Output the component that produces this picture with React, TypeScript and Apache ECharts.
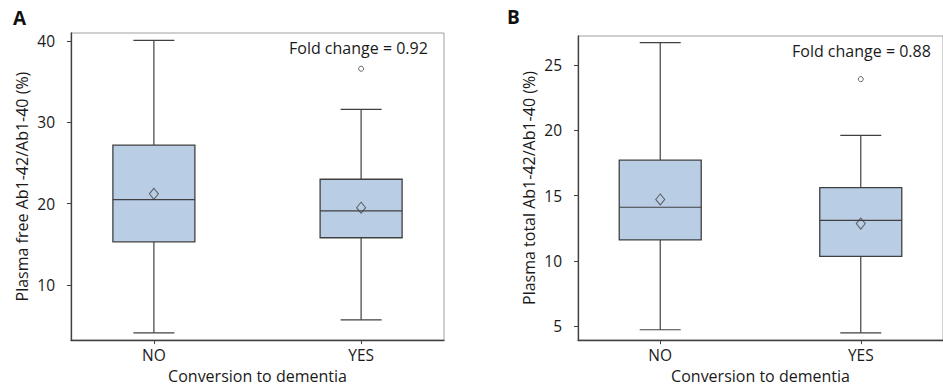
import React, { useEffect, useRef } from "react";
import * as echarts from "echarts";

const categories = ["NO", "YES"];
const categoryPos = [1, 2];

// Panel A: plasma free Ab1-42/Ab1-40 (%) — [min, Q1, median, Q3, max]
const freeBoxNO = [4.1, 15.3, 20.5, 27.2, 40.1];
const freeBoxYES = [5.7, 15.8, 19.1, 23.0, 31.6];
const freeMeans = [21.2, 19.5];
const freeOutliersYES = [36.6];
const freeTicks = [10, 20, 30, 40];

// Panel B: plasma total Ab1-42/Ab1-40 (%)
const totalBoxNO = [4.73, 11.6, 14.1, 17.7, 26.7];
const totalBoxYES = [4.5, 10.35, 13.1, 15.6, 19.6];
const totalMeans = [14.7, 12.85];
const totalOutliersYES = [23.9];
const totalTicks = [5, 10, 15, 20, 25];

const foldChanges = ["Fold change = 0.92", "Fold change = 0.88"];

const FONT = "Open Sans";
const LINE = "#404040";
const FILL = "#b9cde5";
const TEXT = "#1a1a1a";

function boxRender(params: any, api: any) {
  const x = api.value(0);
  const pMin = api.coord([x, api.value(1)]);
  const pQ1 = api.coord([x, api.value(2)]);
  const pMed = api.coord([x, api.value(3)]);
  const pQ3 = api.coord([x, api.value(4)]);
  const pMax = api.coord([x, api.value(5)]);
  const cx = pMed[0];
  const half = 41;
  const cap = 20.5;
  const ls = { stroke: LINE, lineWidth: 1.2 };
  return {
    type: "group",
    children: [
      { type: "line", shape: { x1: cx, y1: pMax[1], x2: cx, y2: pQ3[1] }, style: ls },
      { type: "line", shape: { x1: cx, y1: pQ1[1], x2: cx, y2: pMin[1] }, style: ls },
      { type: "line", shape: { x1: cx - cap, y1: pMax[1], x2: cx + cap, y2: pMax[1] }, style: ls },
      { type: "line", shape: { x1: cx - cap, y1: pMin[1], x2: cx + cap, y2: pMin[1] }, style: ls },
      {
        type: "rect",
        shape: { x: cx - half, y: pQ3[1], width: half * 2, height: pQ1[1] - pQ3[1] },
        style: { fill: FILL, stroke: LINE, lineWidth: 1.3 },
      },
      { type: "line", shape: { x1: cx - half, y1: pMed[1], x2: cx + half, y2: pMed[1] }, style: ls },
    ],
  };
}

function makeXAxis(gridIndex: number, min: number, max: number) {
  return {
    type: "value",
    gridIndex,
    min,
    max,
    name: "Conversion to dementia",
    nameLocation: "middle",
    nameGap: 22,
    nameTextStyle: { fontFamily: FONT, fontSize: 16, color: TEXT },
    axisLine: { show: true, lineStyle: { color: LINE, width: 1.3 } },
    axisTick: { show: true, length: 4, customValues: categoryPos, lineStyle: { color: LINE } },
    axisLabel: {
      customValues: categoryPos,
      margin: 7,
      fontFamily: FONT,
      fontSize: 15.5,
      color: TEXT,
      formatter: (v: number) => categories[Math.round(v) - 1] ?? "",
    },
    splitLine: { show: false },
  };
}

function makeYAxis(gridIndex: number, min: number, max: number, ticks: number[], name: string) {
  return {
    type: "value",
    gridIndex,
    min,
    max,
    name,
    nameLocation: "middle",
    nameGap: 41,
    nameTextStyle: { fontFamily: FONT, fontSize: 16, color: TEXT },
    axisLine: { show: true, lineStyle: { color: LINE, width: 1.3 } },
    axisTick: { show: true, length: 4, customValues: ticks, lineStyle: { color: LINE } },
    axisLabel: { customValues: ticks, margin: 16, fontFamily: FONT, fontSize: 15.5, color: TEXT },
    splitLine: { show: false },
  };
}

export default function App() {
  const ref = useRef<HTMLDivElement>(null);
  useEffect(() => {
    if (!ref.current) return;
    const chart = echarts.init(ref.current, undefined, { renderer: "svg" });
    const meanStyle = { color: "rgba(0,0,0,0)", borderColor: LINE, borderWidth: 1 };
    chart.setOption({
      animation: false,
      backgroundColor: "#fff",
      grid: [
        { left: 71, top: 33, width: 373, height: 309, show: true, borderColor: "#a0a0a0", borderWidth: 1 },
        { left: 578, top: 36, width: 375, height: 308, show: true, borderColor: "#a0a0a0", borderWidth: 1 },
      ],
      xAxis: [makeXAxis(0, 0.6, 2.4), makeXAxis(1, 0.59, 2.41)],
      yAxis: [
        makeYAxis(0, 3.2, 41.0, freeTicks, "Plasma free Ab1-42/Ab1-40 (%)"),
        makeYAxis(1, 3.94, 27.2, totalTicks, "Plasma total Ab1-42/Ab1-40 (%)"),
      ],
      series: [
        {
          type: "custom",
          xAxisIndex: 0,
          yAxisIndex: 0,
          renderItem: boxRender,
          encode: { x: 0, y: [1, 2, 3, 4, 5] },
          data: [
            [categoryPos[0], ...freeBoxNO],
            [categoryPos[1], ...freeBoxYES],
          ],
        },
        {
          type: "scatter",
          xAxisIndex: 0,
          yAxisIndex: 0,
          symbol: "diamond",
          symbolSize: [9, 11],
          itemStyle: meanStyle,
          data: freeMeans.map((v, i) => [categoryPos[i], v]),
        },
        {
          type: "scatter",
          xAxisIndex: 0,
          yAxisIndex: 0,
          symbol: "circle",
          symbolSize: 5,
          itemStyle: meanStyle,
          data: freeOutliersYES.map((v) => [categoryPos[1], v]),
        },
        {
          type: "custom",
          xAxisIndex: 1,
          yAxisIndex: 1,
          renderItem: boxRender,
          encode: { x: 0, y: [1, 2, 3, 4, 5] },
          data: [
            [categoryPos[0], ...totalBoxNO],
            [categoryPos[1], ...totalBoxYES],
          ],
        },
        {
          type: "scatter",
          xAxisIndex: 1,
          yAxisIndex: 1,
          symbol: "diamond",
          symbolSize: [9, 11],
          itemStyle: meanStyle,
          data: totalMeans.map((v, i) => [categoryPos[i], v]),
        },
        {
          type: "scatter",
          xAxisIndex: 1,
          yAxisIndex: 1,
          symbol: "circle",
          symbolSize: 5,
          itemStyle: meanStyle,
          data: totalOutliersYES.map((v) => [categoryPos[1], v]),
        },
      ],
      graphic: [
        { type: "text", left: 13, top: 8, style: { text: "A", fontFamily: FONT, fontWeight: "bold", fontSize: 19, fill: "#111" } },
        { type: "text", left: 507, top: 7, style: { text: "B", fontFamily: FONT, fontWeight: "bold", fontSize: 19, fill: "#111" } },
        { type: "text", left: 289, top: 40, style: { text: foldChanges[0], fontFamily: FONT, fontSize: 16, fill: TEXT } },
        { type: "text", left: 792, top: 43, style: { text: foldChanges[1], fontFamily: FONT, fontSize: 16, fill: TEXT } },
      ],
    });
    return () => chart.dispose();
  }, []);
  return <div ref={ref} style={{ position: "fixed", left: 0, top: 0, width: 943, height: 389 }} />;
}
